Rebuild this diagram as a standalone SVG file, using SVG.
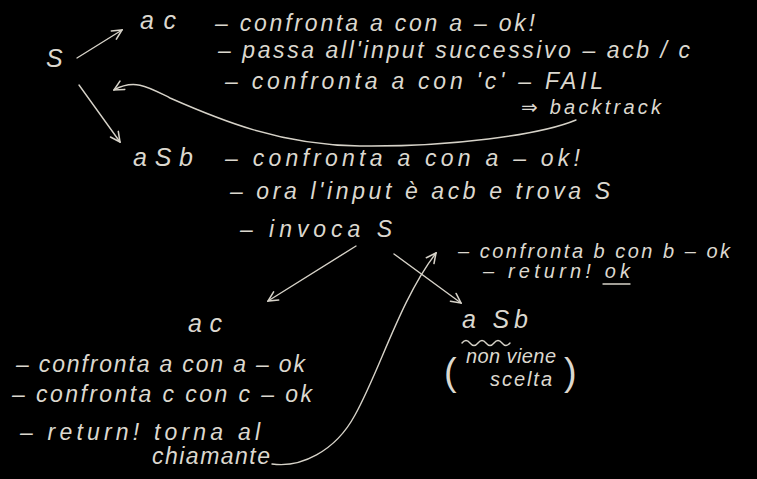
<svg xmlns="http://www.w3.org/2000/svg" width="757" height="479" viewBox="0 0 757 479">
<style>
  text { font-family: "Liberation Sans", "DejaVu Sans", sans-serif; font-style: italic; fill: #dcd8cf; font-size: 23px; }
  .big { font-size: 25px; }
  .sm { font-size: 20px; }
  .par { font-size: 38px; font-style: normal; }
  .ln { fill: none; stroke: #d6d2c8; stroke-width: 1.4; stroke-linecap: round; }
</style>
<defs>
  <marker id="ah" viewBox="0 0 10 10" refX="9" refY="5" markerWidth="12" markerHeight="12" markerUnits="userSpaceOnUse" orient="auto">
    <path d="M1,1 L9,5 L1,9" fill="none" stroke="#d6d2c8" stroke-width="1.3" stroke-linecap="round"/>
  </marker>
</defs>
<rect width="757" height="479" fill="#000"/>

<g id="connectors">
  <path class="ln" d="M77,58 L122,30" marker-end="url(#ah)"/>
  <path class="ln" d="M79,85 L120,142" marker-end="url(#ah)"/>
  <path class="ln" d="M576,120 C540,135 450,147 360,146 C280,145 220,120 170,98 C150,88 135,78 114,90" marker-end="url(#ah)"/>
  <path class="ln" d="M356,246 L268,301" marker-end="url(#ah)"/>
  <path class="ln" d="M394,254 L461,303" marker-end="url(#ah)"/>
  <path class="ln" d="M272,464 C300,468 335,452 355,415 C380,370 400,300 436,253" marker-end="url(#ah)"/>
</g>

<g id="node-S">
  <text class="big" x="46" y="67">S</text>
</g>

<g id="node-ac-top">
  <text class="big" x="140" y="29" textLength="36" lengthAdjust="spacing">ac</text>
  <text x="215" y="31" textLength="320" lengthAdjust="spacing">– confronta a con a – ok!</text>
  <text x="218" y="58" textLength="472" lengthAdjust="spacing">– passa all'input successivo – acb / c</text>
  <text x="225" y="89" textLength="378" lengthAdjust="spacing">– confronta a con 'c' – FAIL</text>
  <text class="sm" x="521" y="114" textLength="140" lengthAdjust="spacing">⇒ backtrack</text>
</g>

<g id="node-aSb-top">
  <text class="big" x="133" y="166" textLength="60" lengthAdjust="spacing">aSb</text>
  <text x="225" y="166" textLength="355" lengthAdjust="spacing">– confronta a con a – ok!</text>
  <text x="230" y="199" textLength="380" lengthAdjust="spacing">– ora l'input è acb e trova S</text>
  <text x="240" y="237" textLength="152" lengthAdjust="spacing">– invoca S</text>
  <text class="sm" x="458" y="258" textLength="272" lengthAdjust="spacing">– confronta b con b – ok</text>
  <text class="sm" x="483" y="278" textLength="147" lengthAdjust="spacing">– return! ok</text>
  <path class="ln" d="M603,284 L630,284"/>
</g>

<g id="node-ac-low">
  <text class="big" x="188" y="332" textLength="34" lengthAdjust="spacing">ac</text>
  <text x="16" y="372" textLength="289" lengthAdjust="spacing">– confronta a con a – ok</text>
  <text x="12" y="402" textLength="300" lengthAdjust="spacing">– confronta c con c – ok</text>
  <text x="20" y="440" textLength="240" lengthAdjust="spacing">– return! torna al</text>
  <text x="152" y="464" textLength="118" lengthAdjust="spacing">chiamante</text>
</g>

<g id="node-aSb-low">
  <text class="big" x="462" y="328" textLength="66" lengthAdjust="spacing">a Sb</text>
  <path class="ln" d="M462,343 q4,-5 8,0 t8,0 t8,0 t8,0 t8,0 t8,0"/>
  <text class="par" x="444" y="385">(</text>
  <text class="sm" x="466" y="363" textLength="90" lengthAdjust="spacing">non viene</text>
  <text class="sm" x="490" y="386" textLength="62" lengthAdjust="spacing">scelta</text>
  <text class="par" x="564" y="385">)</text>
</g>
</svg>
